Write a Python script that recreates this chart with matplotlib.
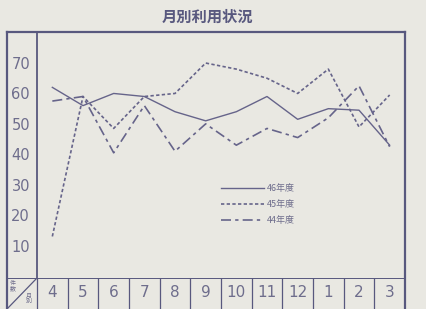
import matplotlib.pyplot as plt

# データ
months = ['4', '5', '6', '7', '8', '9', '10', '11', '12', '1', '2', '3']
fy46 = [62, 56, 60, 59, 54, 51, 54, 59, 51.5, 55, 54.5, 43]
fy45 = [13, 59, 48.5, 59, 60, 70, 68, 65, 60, 68, 49, 59.5]
fy44 = [57.5, 59, 40.5, 56, 41, 50, 43, 48.5, 45.5, 52, 62.5, 42.5]
yticks = [10, 20, 30, 40, 50, 60, 70]
series_labels = ['46年度', '45年度', '44年度']

bg = '#e9e8e2'
ink = '#58587e'
line_c = '#66648a'
txt = '#6e6d8c'
W, H = 427, 309

plt.rcParams['font.family'] = ['Noto Sans CJK JP', 'DejaVu Sans']

fig = plt.figure(figsize=(W / 100, H / 100), dpi=100, facecolor=bg)

# 外枠
fa = fig.add_axes([7 / W, -0.05, 398 / W, 1 - 32 / H + 0.05])
fa.set_facecolor(bg)
fa.set_xticks([])
fa.set_yticks([])
for s in fa.spines.values():
    s.set_color(ink)
    s.set_linewidth(1.6)

# グラフ部分
ax = fig.add_axes([37 / W, 1 - 278 / H, 368 / W, 246 / H])
ax.patch.set_alpha(0)
x = list(range(len(months)))
ax.plot(x, fy46, color=line_c, lw=1.0, ls='-', label=series_labels[0])
ax.plot(x, fy45, color=line_c, lw=1.2, ls=(0, (2, 1.4)), label=series_labels[1])
ax.plot(x, fy44, color=line_c, lw=1.2, ls=(0, (6, 2.5, 2, 2.5)), label=series_labels[2])
ax.set_xlim(-0.5, 11.5)
ax.set_ylim(-0.66, 80.2)
ax.set_xticks([])
ax.set_yticks(yticks)
ax.set_yticklabels([str(v) for v in yticks], family='DejaVu Sans', fontsize=10.5, color=txt)
ax.tick_params(axis='y', length=0, pad=5)
for k in ['top', 'right', 'bottom']:
    ax.spines[k].set_visible(False)
ax.spines['left'].set_color(ink)
ax.spines['left'].set_linewidth(1.3)

leg = ax.legend(loc='upper left', bbox_to_anchor=(0.49, 0.395), frameon=False,
                fontsize=6.5, handlelength=4.8, handletextpad=0.3, labelspacing=0.75,
                borderaxespad=0)
for t in leg.get_texts():
    t.set_color(txt)

# 月別の表
tb = fig.add_axes([7 / W, -0.05, 398 / W, 1 - 278 / H + 0.05])
tb.patch.set_alpha(0)
left = -0.5 - 30 / 30.67
tb.set_xlim(left, 11.5)
tb.set_ylim(0, 1)
tb.axis('off')
tb.axhline(1, color=ink, lw=1.4)
for i in range(12):
    tb.axvline(i - 0.5, color=ink, lw=0.9)
    tb.text(i, 0.68, months[i], ha='center', va='center', fontsize=11,
            family='DejaVu Sans', color=txt)
tb.plot([left, -0.5], [0.333, 1], color=ink, lw=0.9)
tb.text(left + 0.2, 0.82, '件\n数', fontsize=4.3, color=txt, ha='center',
        va='center', linespacing=1.0)
tb.text(-0.78, 0.54, '月\n別', fontsize=4.3, color=txt, ha='center',
        va='center', linespacing=1.0)

fig.text(207 / W, 1 - 17 / H, '月別利用状況', ha='center', va='center',
         fontsize=11, fontweight='bold', color=ink)

fig.savefig('out.png', dpi=100, facecolor=bg)
